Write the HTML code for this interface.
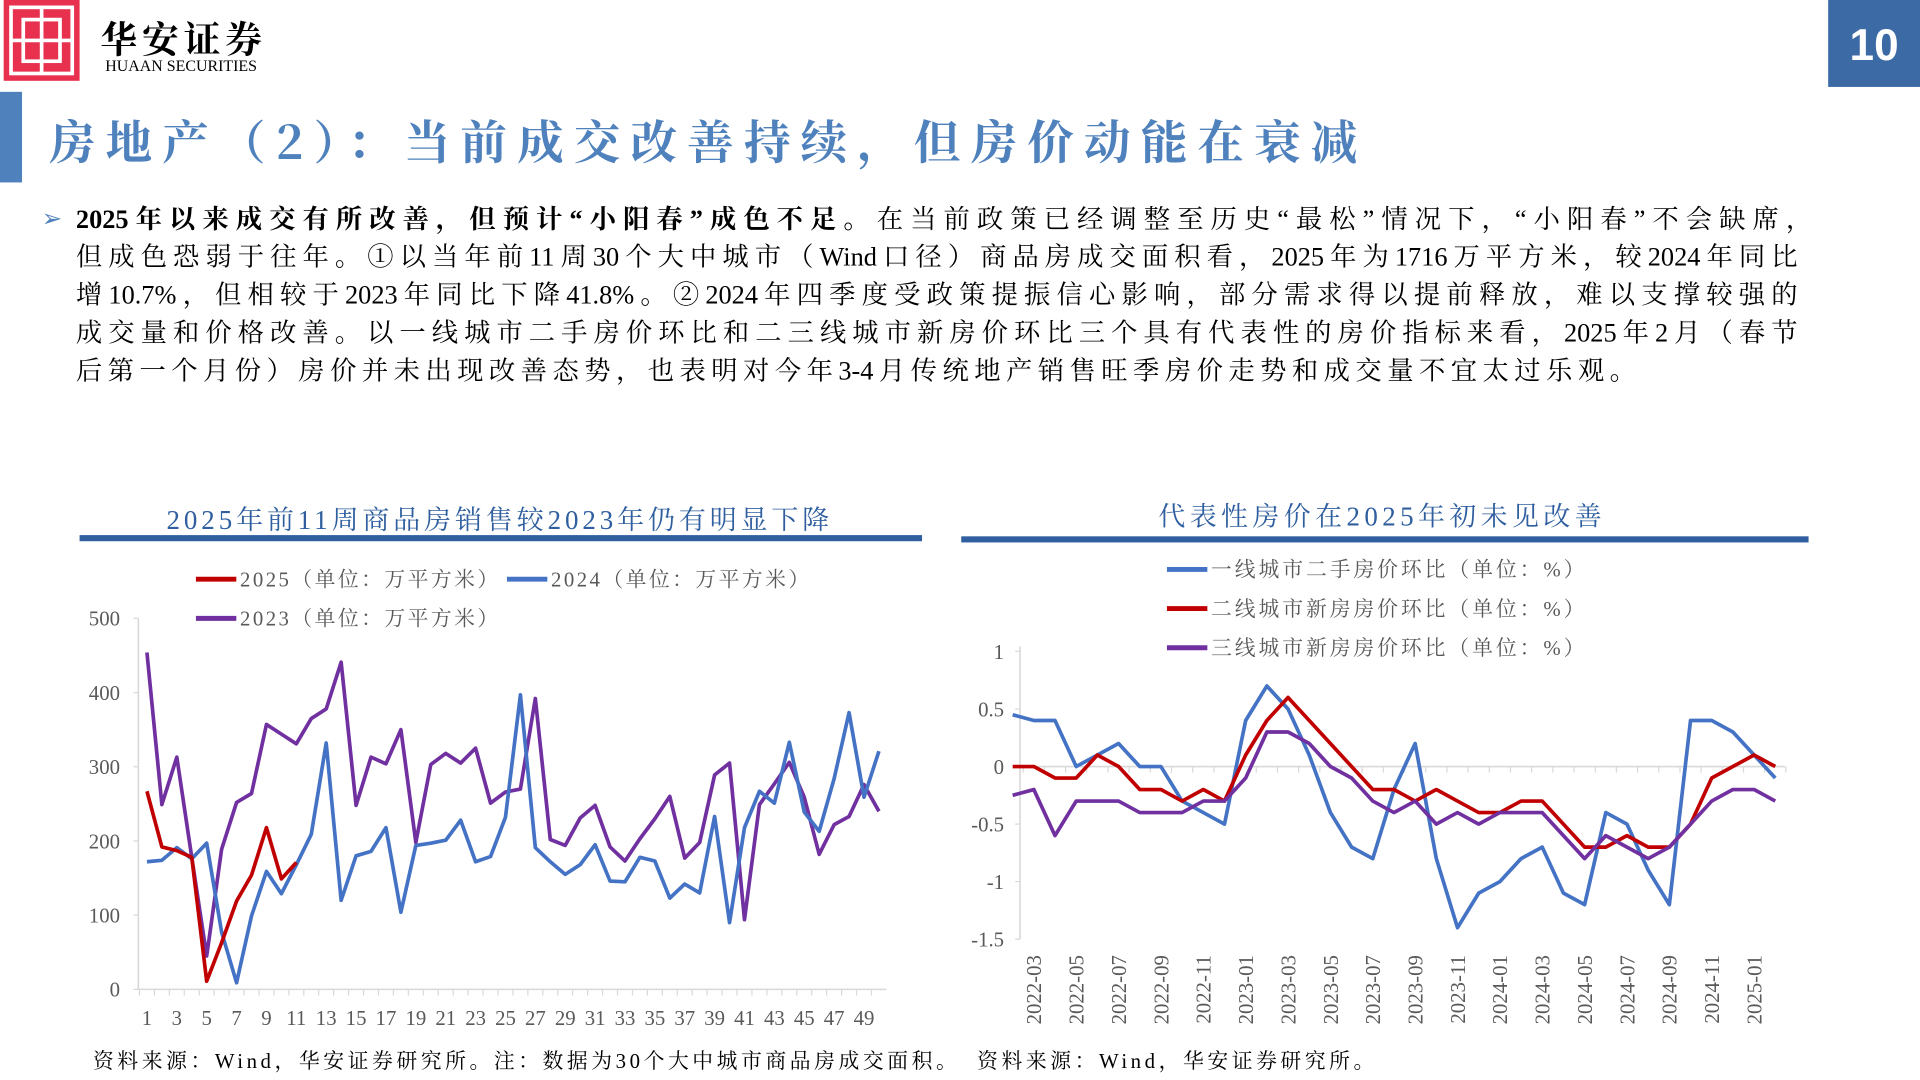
<!DOCTYPE html>
<html><head><meta charset="utf-8">
<style>
html,body{margin:0;padding:0;background:#fff;overflow:hidden;width:1920px;height:1080px}
#stage{position:absolute;left:0;top:0;width:1568px;height:882px;transform:scale(1.22449);transform-origin:0 0;font-family:"Liberation Serif","Noto Serif CJK SC",serif}
.abs{position:absolute}
.ln{position:absolute;left:62px;font-size:21.5px;line-height:31px;color:#000;white-space:nowrap;text-align:justify;text-align-last:justify}
.ctitle{font-size:22px;color:#2f5f9f;white-space:nowrap}
.src{font-size:17px;color:#000;white-space:nowrap;top:852px;letter-spacing:2.9px}
svg text{font-family:"Liberation Serif","Noto Serif CJK SC",serif}
</style></head><body>
<div id="stage">
  <div class="abs" style="left:3px;top:0;width:62px;height:66px;background:#e8304f">
    <svg width="62" height="66" viewBox="0 0 62 66"><g fill="none" stroke="#fff" stroke-width="3"><rect x="6" y="6" width="50" height="54"/><rect x="16" y="16" width="30" height="34"/><line x1="31" y1="6" x2="31" y2="60"/><line x1="6" y1="33" x2="56" y2="33"/></g></svg>
  </div>
  <div class="abs" style="left:82px;top:8px;font-size:30px;font-family:'Noto Serif CJK SC',serif;font-weight:bold;letter-spacing:4px">华安证券</div>
  <div class="abs" style="left:86px;top:46px;font-size:13px;font-family:'Liberation Serif',serif">HUAAN SECURITIES</div>
  <div class="abs" style="left:1493px;top:0;width:75px;height:71px;background:#3b6aa5;color:#fff;font:bold 36px 'Liberation Sans',sans-serif;text-align:center;line-height:74px">10</div>
  <div class="abs" style="left:0;top:75px;width:18px;height:74px;background:#4f81bd"></div>
  <div class="abs" style="left:40px;top:86px;font-size:38px;color:#4f81bd;font-weight:bold;letter-spacing:8.3px;white-space:nowrap;font-family:'Noto Serif CJK SC',serif">房地产（2）：当前成交改善持续，但房价动能在衰减</div>
  <div class="abs" style="left:34px;top:166px;color:#4f81bd;font-size:20px">➢</div>
  <div>
  <div class="ln" style="top:164px;width:1418px"><b>2025年以来成交有所改善，但预计“小阳春”成色不足。</b>在当前政策已经调整至历史“最松”情况下，“小阳春”不会缺席，</div>
  <div class="ln" style="top:195px;width:1406px">但成色恐弱于往年。①以当年前11周30个大中城市（Wind口径）商品房成交面积看，2025年为1716万平方米，较2024年同比</div>
  <div class="ln" style="top:226px;width:1406px">增10.7%，但相较于2023年同比下降41.8%。②2024年四季度受政策提振信心影响，部分需求得以提前释放，难以支撑较强的</div>
  <div class="ln" style="top:257px;width:1406px">成交量和价格改善。以一线城市二手房价环比和二三线城市新房价环比三个具有代表性的房价指标来看，2025年2月（春节</div>
  <div class="ln" style="top:288px;width:1274px">后第一个月份）房价并未出现改善态势，也表明对今年3-4月传统地产销售旺季房价走势和成交量不宜太过乐观。</div>
  </div>

  <div class="abs ctitle" style="left:136px;top:408px;letter-spacing:3.2px">2025年前11周商品房销售较2023年仍有明显下降</div>
  <div class="abs" style="left:65px;top:437px;width:688px;height:5px;background:#2f5f9f"></div>
  <div class="abs ctitle" style="left:946px;top:405px;letter-spacing:3.6px">代表性房价在2025年初未见改善</div>
  <div class="abs" style="left:785px;top:438px;width:692px;height:5px;background:#2f5f9f"></div>

  <svg id="left" class="abs" style="left:0;top:0" width="780" height="882"></svg>
  <svg id="right" class="abs" style="left:0;top:0" width="1568" height="882"></svg>

  <div class="abs src" style="left:76px">资料来源：Wind，华安证券研究所。注：数据为30个大中城市商品房成交面积。</div>
  <div class="abs src" style="left:798px">资料来源：Wind，华安证券研究所。</div>
</div>
<script>
const NS='http://www.w3.org/2000/svg';
// ---- left chart data ----
const weeks=Array.from({length:50},(_,i)=>i+1);
const s2025=[267,192,187,178,11,63,119,154,218,149,171];
const s2024=[172,174,191,176,197,77,9,99,159,129,168,209,332,120,180,186,218,104,194,197,201,228,172,179,232,397,191,172,155,168,195,146,145,178,173,123,142,130,233,90,218,267,251,333,239,213,284,373,259,321];
const s2023=[454,249,313,178,45,189,252,264,357,344,331,365,378,441,248,313,304,350,198,303,318,305,325,251,266,270,392,202,194,231,248,192,173,203,230,260,177,198,289,305,94,249,277,306,259,182,222,233,276,240];
const leftTicks=[0,100,200,300,400,500];
// ---- right chart data ----
const months=[];for(let y=2022,m=2;months.length<37;){months.push(y+'-'+String(m).padStart(2,'0'));m++;if(m>12){m=1;y++;}}
const tier1=[0.45,0.4,0.4,0.0,0.1,0.2,0.0,0.0,-0.3,-0.4,-0.5,0.4,0.7,0.5,0.1,-0.4,-0.7,-0.8,-0.2,0.2,-0.8,-1.4,-1.1,-1.0,-0.8,-0.7,-1.1,-1.2,-0.4,-0.5,-0.9,-1.2,0.4,0.4,0.3,0.1,-0.1];
const tier2=[0,0,-0.1,-0.1,0.1,0,-0.2,-0.2,-0.3,-0.2,-0.3,0.1,0.4,0.6,0.4,0.2,0.0,-0.2,-0.2,-0.3,-0.2,-0.3,-0.4,-0.4,-0.3,-0.3,-0.5,-0.7,-0.7,-0.6,-0.7,-0.7,-0.5,-0.1,0.0,0.1,0.0];
const tier3=[-0.25,-0.2,-0.6,-0.3,-0.3,-0.3,-0.4,-0.4,-0.4,-0.3,-0.3,-0.1,0.3,0.3,0.2,0.0,-0.1,-0.3,-0.4,-0.3,-0.5,-0.4,-0.5,-0.4,-0.4,-0.4,-0.6,-0.8,-0.6,-0.7,-0.8,-0.7,-0.5,-0.3,-0.2,-0.2,-0.3];
const rightTicks=[1,0.5,0,-0.5,-1,-1.5];

function mk(svg,tag,attrs){const e=document.createElementNS(NS,tag);for(const k in attrs)e.setAttribute(k,attrs[k]);svg.appendChild(e);return e;}
const RED='#c00000',BLUE='#4472c4',PURPLE='#7030a0',GRID='#d9d9d9',TXT='#595959';

// left
const L=document.getElementById('left');
const lx=w=>120+(w-1)*12.2, ly=v=>808-v*0.606;
mk(L,'line',{x1:113,y1:505,x2:113,y2:808,stroke:GRID,'stroke-width':1.3});
mk(L,'line',{x1:113,y1:808,x2:724,y2:808,stroke:GRID,'stroke-width':1.3});
leftTicks.forEach(t=>{
  mk(L,'line',{x1:109,y1:ly(t),x2:113,y2:ly(t),stroke:GRID});
  const tx=mk(L,'text',{x:98,y:ly(t)+6,'text-anchor':'end','font-size':17,fill:TXT});tx.textContent=t;
  
  
});
weeks.forEach(w=>{
  mk(L,'line',{x1:lx(w)-6.1,y1:808,x2:lx(w)-6.1,y2:813,stroke:GRID});
  if(w%2===1){const tx=mk(L,'text',{x:lx(w),y:837,'text-anchor':'middle','font-size':17,fill:TXT});tx.textContent=w;
  
  }
});
function lineL(svg,arr,fx,fy,col,name){const p=mk(svg,'polyline',{points:arr.map((v,i)=>fx(i)+','+fy(v)).join(' '),fill:'none',stroke:col,'stroke-width':3,'stroke-linejoin':'round'});
  
  }
lineL(L,s2023,i=>lx(weeks[i]),ly,PURPLE,'series-2023');
lineL(L,s2024,i=>lx(weeks[i]),ly,BLUE,'series-2024');
lineL(L,s2025,i=>lx(weeks[i]),ly,RED,'series-2025');
function legend(svg,x,y,col,label,name,ls){mk(svg,'line',{x1:x,y1:y,x2:x+33,y2:y,stroke:col,'stroke-width':4});
  const t=mk(svg,'text',{x:x+36,y:y+6,'font-size':17,fill:TXT,'letter-spacing':ls});t.textContent=label;
  
  }
legend(L,160,473,RED,'2025（单位：万平方米）','legend-2025',2);
legend(L,414,473,BLUE,'2024（单位：万平方米）','legend-2024',2);
legend(L,160,505,PURPLE,'2023（单位：万平方米）','legend-2023',2);

// right
const R=document.getElementById('right');
const rx=i=>827+i*17.3, ry=v=>626-v*94;
mk(R,'line',{x1:833,y1:ry(1)-4,x2:833,y2:ry(-1.5),stroke:GRID,'stroke-width':1.3});
mk(R,'line',{x1:833,y1:ry(0),x2:1458,y2:ry(0),stroke:GRID,'stroke-width':1.3});
rightTicks.forEach(t=>{
  mk(R,'line',{x1:829,y1:ry(t),x2:833,y2:ry(t),stroke:GRID});
  const tx=mk(R,'text',{x:820,y:ry(t)+6,'text-anchor':'end','font-size':17,fill:TXT});tx.textContent=t;
  
  
});
months.forEach((m,i)=>{
  mk(R,'line',{x1:rx(i)+8.65,y1:ry(0),x2:rx(i)+8.65,y2:ry(0)+5,stroke:GRID});
  if(i%2===1){const tx=mk(R,'text',{x:0,y:0,'text-anchor':'end','font-size':17,fill:TXT,transform:`translate(${rx(i)+6},780) rotate(-90)`});tx.textContent=m;
  
  }
});
lineL(R,tier1,rx,ry,BLUE,'series-tier1-resale');
lineL(R,tier2,rx,ry,RED,'series-tier2-new');
lineL(R,tier3,rx,ry,PURPLE,'series-tier3-new');
legend(R,953,465,BLUE,'一线城市二手房价环比（单位：%）','legend-tier1',2.4);
legend(R,953,497,RED,'二线城市新房房价环比（单位：%）','legend-tier2',2.4);
legend(R,953,529,PURPLE,'三线城市新房房价环比（单位：%）','legend-tier3',2.4);
</script>
</body></html>
